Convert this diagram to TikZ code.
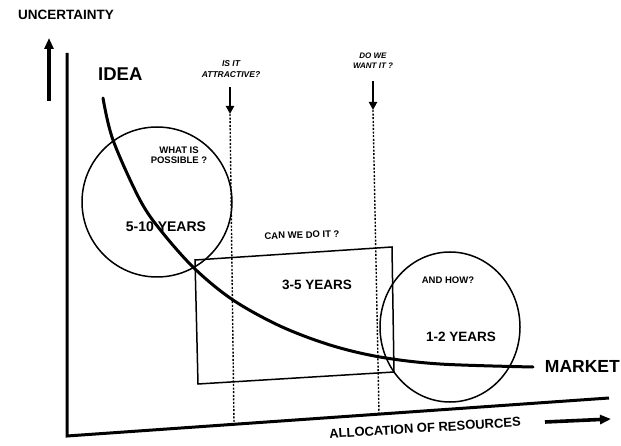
\documentclass[tikz,border=0pt]{standalone}
\usepackage{fontspec}
\setmainfont{Liberation Sans}
\usetikzlibrary{arrows.meta}
\begin{document}
\begin{tikzpicture}[x=1pt,y=-1pt,
  lbl/.style={font=\bfseries\fontsize{#1}{#1}\selectfont, inner sep=0pt, align=center},
  qlbl/.style={font=\bfseries\itshape\fontsize{#1}{#1}\selectfont, inner sep=0pt, align=center},
  axis/.style={line width=3pt},
  bigarrow/.style={line width=3.6pt, -{Triangle[length=11pt,width=9pt]}},
  askarrow/.style={line width=2.6pt, -{Triangle[length=8pt,width=8pt]}},
  guide/.style={line width=1.4pt, dash pattern=on 2pt off 1.6pt},
  zone/.style={line width=1.5pt},
  lifecurve/.style={line width=3pt, line cap=round}]
\useasboundingbox (0,0) rectangle (621,446);

% axes
\coordinate (ytop) at (67,53);
\coordinate (origin) at (67,436);
\coordinate (xend) at (609,398);
\draw[axis, line join=miter] (ytop) -- (origin) -- (xend);

% axis direction arrows
\coordinate (uS) at (49,101);
\coordinate (uE) at (49,38);
\draw[bigarrow] (uS) -- (uE);
\coordinate (rS) at (545,422);
\coordinate (rE) at (611,419);
\draw[bigarrow] (rS) -- (rE);

% axis titles
\node[lbl=13.5] (unc) at (66,15) {UNCERTAINTY};
\node[lbl=13, rotate=3.6] (alloc) at (425,428) {ALLOCATION OF RESOURCES};

% curve from idea to market
\node[lbl=18.5, anchor=west] (idea) at (98,74) {IDEA};
\node[lbl=17.5, anchor=east] (market) at (620,366) {MARKET};
\draw[lifecurve] plot[smooth, tension=0.55] coordinates
  {(103,98) (113,140) (140,200) (162,232) (195,269) (233,300) (280,326) (330,345) (380,357) (440,364) (533,367)};

% decision points with dotted guides
\node[qlbl=8.5] (q1) at (231,69) {IS IT\\[2pt]ATTRACTIVE?};
\coordinate (a1s) at (230,87);
\coordinate (a1e) at (230,114);
\draw[askarrow] (a1s) -- (a1e);
\coordinate (g1b) at (234,424);
\draw[guide] (a1e) -- (g1b);

\node[qlbl=8] (q2) at (373,61) {DO WE\\[2pt]WANT IT ?};
\coordinate (a2s) at (373,81);
\coordinate (a2e) at (373,110);
\draw[askarrow] (a2s) -- (a2e);
\coordinate (g2b) at (379,414);
\draw[guide] (a2e) -- (g2b);

% research phase
\coordinate (c1) at (157,202);
\draw[zone] (c1) circle[radius=75];
\node[lbl=9.5] (possible) at (179,155) {WHAT IS\\[1pt]POSSIBLE ?};
\node[lbl=14] (yrs1) at (166,227) {5-10 YEARS};

% development phase
\coordinate (r1) at (195,260);
\coordinate (r2) at (392,247);
\coordinate (r3) at (394,372);
\coordinate (r4) at (198,384);
\draw[zone] (r1) -- (r2) -- (r3) -- (r4) -- cycle;
\node[lbl=9.5, rotate=1.5] (doit) at (302,235) {CAN WE DO IT ?};
\node[lbl=13.5] (yrs2) at (317,285) {3-5 YEARS};

% market phase
\coordinate (c2) at (450,327);
\draw[zone] (c2) circle[x radius=70, y radius=75];
\node[lbl=9.5] (how) at (448,280) {AND HOW?};
\node[lbl=13.5] (yrs3) at (461,337) {1-2 YEARS};
\end{tikzpicture}
\end{document}
